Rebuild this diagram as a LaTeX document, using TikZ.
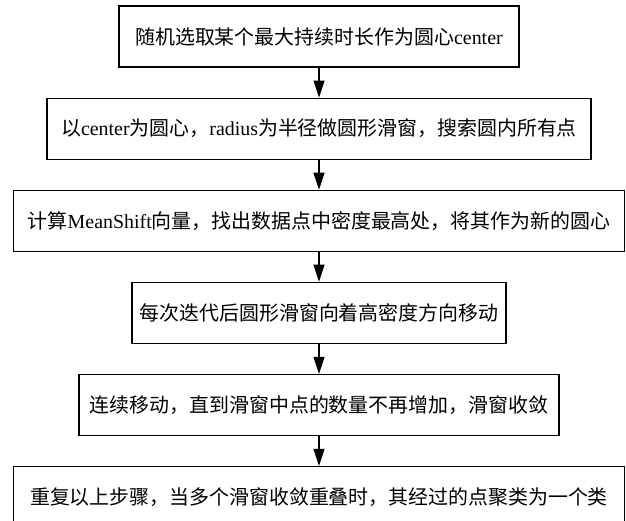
\documentclass[tikz,border=0pt]{standalone}
\usepackage{fontspec}
\setmainfont{Liberation Serif}
\newfontfamily\cjk{Noto Sans CJK SC}
\newfontfamily\latin{Liberation Serif}
\newcommand{\lat}[1]{{\latin #1}}
\usepackage{tikz}
\usetikzlibrary{arrows.meta, positioning}

\begin{document}
\begin{tikzpicture}[x=1bp, y=1bp,
  stepbox/.style={draw, line width=1.1bp, minimum height=61bp, inner sep=0pt,
    font=\cjk\fontsize{20}{24}\selectfont},
  flow/.style={-{Triangle[length=17bp, width=11bp]}, line width=1.1bp},
  node distance=30bp]
  \useasboundingbox (0,0) rectangle (626,521);
  % Steps of the clustering
  \node[stepbox, minimum width=400bp] (pick) at (319,484.5) {随机选取某个最大持续时长作为圆心\lat{center}};
  \node[stepbox, minimum width=544bp, below=of pick] (window) {以\lat{center}为圆心，\lat{radius}为半径做圆形滑窗，搜索圆内所有点};
  \node[stepbox, minimum width=611bp, below=of window] (shift) {计算\lat{MeanShift}向量，找出数据点中密度最高处，将其作为新的圆心};
  \node[stepbox, minimum width=374bp, below=of shift] (move) {每次迭代后圆形滑窗向着高密度方向移动};
  \node[stepbox, minimum width=480bp, below=of move] (converge) {连续移动，直到滑窗中点的数量不再增加，滑窗收敛};
  \node[stepbox, minimum width=611bp, below=of converge] (merge) {重复以上步骤，当多个滑窗收敛重叠时，其经过的点聚类为一个类};
  % Arrows
  \draw[flow] (pick) -- (window);
  \draw[flow] (window) -- (shift);
  \draw[flow] (shift) -- (move);
  \draw[flow] (move) -- (converge);
  \draw[flow] (converge) -- (merge);
\end{tikzpicture}
\end{document}
